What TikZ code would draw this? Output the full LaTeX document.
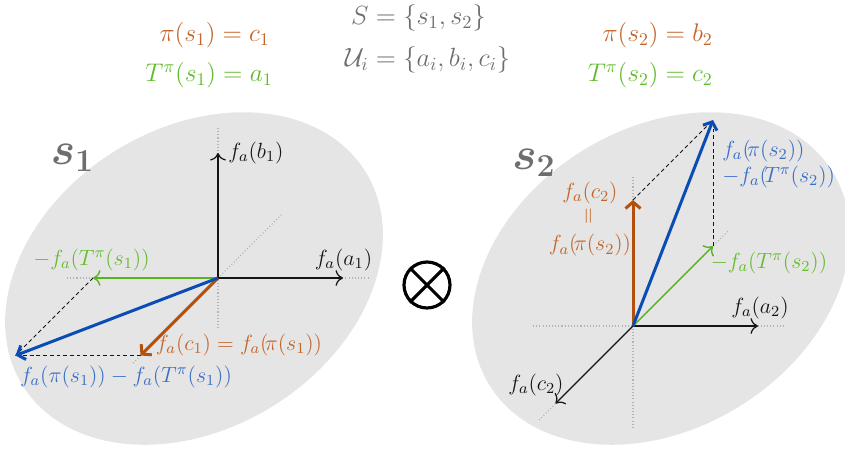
\RequirePackage{fix-cm}
\documentclass[tikz,border=0pt]{standalone}
\usepackage{amsmath}
\usepackage{xcolor}
\usepackage{tikz}
\usetikzlibrary{arrows.meta,calc,positioning,shapes.geometric}
\definecolor{PolicyOrange}{HTML}{B4500E}
\definecolor{PolicyText}{HTML}{C2662C}
\definecolor{TransGreen}{HTML}{5AB41E}
\definecolor{TransText}{HTML}{63BB2E}
\definecolor{DiffBlue}{HTML}{0B4CB4}
\definecolor{DiffText}{HTML}{3A6FC6}
\definecolor{StateFill}{HTML}{E5E5E5}
\definecolor{SoftInk}{HTML}{6E6E6E}
\definecolor{Ink}{HTML}{151515}
\newcommand{\tightpar}{(\mkern-3mu}

\begin{document}
\begin{tikzpicture}[
  statebg/.style={ellipse,fill=StateFill,draw=none,minimum width=8.08cm,minimum height=6cm,inner sep=0pt},
  axis/.style={-{To[length=1.5mm]},line width=0.7pt,draw=Ink},
  thinvec/.style={-{To[length=1.5mm]},line width=0.8pt},
  thickvec/.style={-{Straight Barb[length=1.3mm,width=3mm]},line width=1.7pt},
  helper/.style={line width=0.5pt,draw=Ink,dash pattern=on 2.2pt off 1.6pt},
  guide/.style={line width=0.6pt,draw=gray!60,dash pattern=on 0.6pt off 1.2pt},
  lbl/.style={inner sep=0pt,font=\fontsize{12.5}{15}\selectfont},
  toplbl/.style={inner sep=0pt,font=\fontsize{14.5}{18}\selectfont},
  statelbl/.style={inner sep=0pt,text=SoftInk,font=\fontsize{26}{30}\selectfont\boldmath},
  otimes/.style={circle,draw=black,line width=1.8pt,minimum size=0.92cm,inner sep=0pt}
]
\useasboundingbox (0,0) rectangle (16.9,9.02);

% states
\node[statebg,rotate=32] (S1) at (3.88,3.45) {};
\node[statebg,rotate=32] (S2) at (13.22,3.45) {};
\node[statelbl] (s1lbl) at (1.45,5.86) {$s_1$};
\node[statelbl] (s2lbl) at (10.68,5.76) {$s_2$};

% header
\node[toplbl,font=\fontsize{15}{18}\selectfont,text=SoftInk,anchor=north] (sets) at (8.55,8.98) {$\begin{aligned} S &= \{s_1, s_2\}\\[3pt] \mathcal{U}_i &= \{a_i, b_i, c_i\}\end{aligned}$};
\node[toplbl,text=PolicyText,anchor=east] (pol1) at (5.4,8.32) {$\pi(s_1) = c_1$};
\node[toplbl,text=TransText,anchor=east] (tr1) at (5.46,7.52) {$T^\pi(s_1) = a_1$};
\node[toplbl,text=PolicyText,anchor=east] (pol2) at (14.26,8.32) {$\pi(s_2) = b_2$};
\node[toplbl,text=TransText,anchor=east] (tr2) at (14.26,7.52) {$T^\pi(s_2) = c_2$};

% left frame, s1
\coordinate (O1) at (4.36,3.46);
\coordinate (b1) at (4.36,5.96);
\coordinate (b1top) at (4.36,6.46);
\coordinate (b1bot) at (4.36,2.46);
\coordinate (a1) at (6.86,3.46);
\coordinate (a1r) at (7.36,3.46);
\coordinate (a1l) at (1.34,3.46);
\coordinate (c1up) at (5.64,4.74);
\coordinate (c1lo) at (2.66,1.76);
\coordinate (T1) at (1.86,3.46);
\coordinate (P1) at (2.81,1.91);
\coordinate (D1) at (0.31,1.91);

\draw[guide] (b1top) -- (b1bot);
\draw[guide] (a1l) -- (a1r);
\draw[guide] (c1lo) -- (c1up);
\draw[axis] (O1) -- (b1);
\draw[axis] (O1) -- (a1);
\draw[helper] (T1) -- (D1);
\draw[helper] (P1) -- (D1);
\draw[thinvec,TransGreen] (O1) -- (T1);
\draw[thickvec,PolicyOrange] (O1) -- (P1);
\draw[thickvec,DiffBlue] (O1) -- (D1);

\node[lbl,text=Ink] (lb1) at (5.12,5.96) {$f_a(b_1)$};
\node[lbl,text=Ink] (la1) at (6.87,3.82) {$f_a(a_1)$};
\node[lbl,text=TransText] (lT1) at (1.83,3.82) {$-f_a(T^\pi(s_1))$};
\node[lbl,text=PolicyText] (lP1) at (4.78,2.12) {$f_a(c_1) = f_a\tightpar\pi(s_1))$};
\node[lbl,text=DiffText] (lD1) at (2.52,1.48) {$f_a(\pi(s_1)) - f_a(T^\pi(s_1))$};

% product
\node[otimes] (prod) at (8.54,3.32) {};
\draw[line width=1.8pt] (prod.north west) -- (prod.south east);
\draw[line width=1.8pt] (prod.north east) -- (prod.south west);

% right frame, s2
\coordinate (O2) at (12.66,2.5);
\coordinate (a2) at (15.16,2.5);
\coordinate (a2r) at (15.7,2.5);
\coordinate (a2l) at (10.66,2.5);
\coordinate (b2top) at (12.66,5.48);
\coordinate (b2bot) at (12.66,0.48);
\coordinate (c2) at (11.11,0.95);
\coordinate (c2lo) at (10.78,0.62);
\coordinate (c2up) at (14.58,4.42);
\coordinate (P2) at (12.66,5.02);
\coordinate (T2) at (14.26,4.1);
\coordinate (D2) at (14.26,6.62);

\draw[guide] (b2top) -- (b2bot);
\draw[guide] (a2l) -- (a2r);
\draw[guide] (c2lo) -- (c2up);
\draw[axis] (O2) -- (a2);
\draw[axis] (O2) -- (c2);
\draw[helper] (P2) -- (D2);
\draw[helper] (T2) -- (D2);
\draw[thinvec,TransGreen] (O2) -- (T2);
\draw[thickvec,PolicyOrange] (O2) -- (P2);
\draw[thickvec,DiffBlue] (O2) -- (D2);

\node[lbl,text=Ink] (la2) at (15.2,2.86) {$f_a(a_2)$};
\node[lbl,text=Ink] (lc2) at (10.72,1.32) {$f_a(c_2)$};
\node[lbl,text=TransText] (lT2) at (15.38,3.76) {$-f_a(T^\pi(s_2))$};
\node[lbl,text=DiffText,anchor=west,align=left] (lD2) at (14.44,5.74) {$f_a\tightpar\pi(s_2))$\\$-f_a\tightpar T^\pi(s_2))$};
\node[lbl,text=PolicyText,align=center] (lP2) at (11.8,4.64) {$f_a(c_2)$\\\rotatebox{90}{$=$}\\$f_a\tightpar\pi(s_2))$};
\end{tikzpicture}
\end{document}
